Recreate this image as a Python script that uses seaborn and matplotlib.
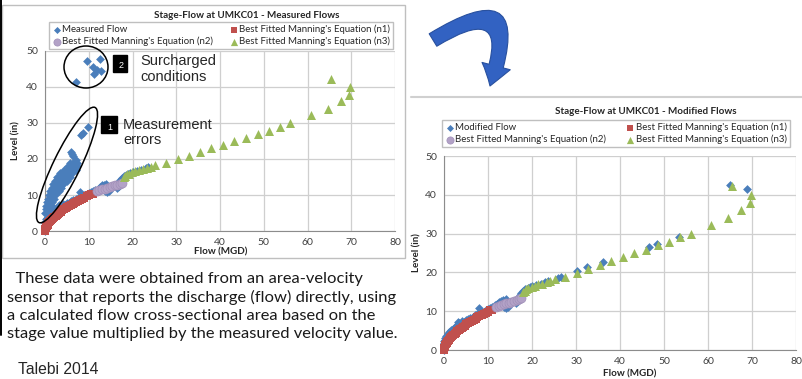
import seaborn as sns
import matplotlib.pyplot as plt
from matplotlib.patches import Ellipse, Rectangle, FancyArrowPatch

# blue points lying on the rating curve (in both charts)
base_flow = [0.0, 0.0, 0.0, 0.05, 0.1, 0.2, 0.3, 0.5, 0.8, 1.2, 1.6, 2.0, 2.5,
             3.0, 3.2, 3.5, 4.0, 4.5, 5.0, 5.5, 6.0, 6.5, 7.0, 7.5, 7.9, 8.5,
             9.0, 9.5, 10.0, 10.5, 11.0, 11.5, 12.0, 12.5, 13.0, 13.5, 14.0,
             13.6, 14.1, 14.6, 15.0, 16.4, 16.8, 17.0, 17.2, 17.6, 18.0, 18.5,
             19.0, 19.5, 20.0, 21.0, 22.0, 23.0, 23.6]
base_level = [0.0, 0.6, 1.2, 1.7, 2.2, 2.7, 3.2, 3.7, 4.2, 4.7, 5.1, 5.5, 6.0,
              6.4, 7.2, 6.9, 7.5, 7.3, 7.7, 7.9, 8.2, 8.5, 8.9, 9.2, 10.9, 9.6,
              9.9, 10.2, 10.5, 10.8, 11.1, 11.5, 11.8, 12.3, 12.7, 12.9, 13.1,
              11.0, 10.7, 11.2, 12.5, 12.0, 12.6, 13.3, 14.2, 14.8, 15.3, 15.6,
              15.9, 16.2, 16.4, 16.7, 17.0, 17.4, 17.8]

# measurement errors (steep branch, left chart only)
error_flow = [0.1, 0.6, 0.2, 0.8, 1.3, 0.3, 0.9, 1.5, 0.5, 1.1, 1.7, 0.7, 1.4,
              2.0, 0.9, 1.6, 2.3, 1.2, 1.9, 2.7, 3.3, 1.5, 2.2, 3.0, 3.6, 1.9,
              2.6, 3.3, 4.0, 2.3, 3.0, 3.7, 4.4, 5.1, 2.8, 3.5, 4.2, 4.9, 5.6,
              3.4, 4.1, 4.8, 5.5, 6.2, 4.3, 5.0, 5.7, 6.4, 7.0, 5.2, 5.9, 6.6,
              7.3, 5.8, 6.5, 7.2, 7.0, 6.4, 6.2, 6.0, 8.2, 8.7, 9.8]
error_level = [5.0, 5.0, 6.0, 6.0, 6.0, 7.0, 7.0, 7.0, 8.0, 8.0, 8.0, 9.0, 9.0,
               9.0, 10.0, 10.0, 10.0, 11.0, 11.0, 11.0, 11.0, 12.0, 12.0, 12.0,
               12.0, 13.0, 13.0, 13.0, 13.0, 14.0, 14.0, 14.0, 14.0, 14.0, 15.0,
               15.0, 15.0, 15.0, 15.0, 16.0, 16.0, 16.0, 16.0, 16.0, 17.0, 17.0,
               17.0, 17.0, 17.0, 18.0, 18.0, 18.0, 18.0, 19.0, 19.0, 19.0, 19.8,
               20.8, 21.4, 22.0, 26.7, 27.3, 29.0]

# surcharged conditions (left chart only)
surcharge_flow = [7.1, 9.6, 10.9, 11.8, 11.1, 12.9, 12.5]
surcharge_level = [41.3, 47.2, 45.6, 44.8, 43.6, 44.5, 47.8]

# corrected high-flow points (right chart only)
modified_flow = [25.8, 26.5, 30.3, 32.4, 36.1, 46.7, 48.5, 53.3, 65.0, 68.9]
modified_level = [18.5, 18.9, 20.4, 21.3, 22.8, 26.6, 27.3, 29.2, 42.5, 41.4]

n1_flow = [0.0, 0.03, 0.09, 0.18, 0.30, 0.43, 0.58, 0.75, 0.94, 1.15, 1.37,
           1.60, 1.85, 2.12, 2.40, 2.69, 2.99, 3.31, 3.64, 3.99, 4.34, 4.71,
           5.09, 5.48, 5.88, 6.30, 6.72, 7.16, 7.60, 8.06, 8.53, 9.01, 9.50,
           10.0, 10.5, 11.0]
n1_level = [0.0, 0.3, 0.6, 0.9, 1.2, 1.5, 1.8, 2.1, 2.4, 2.7, 3.0, 3.3, 3.6,
            3.9, 4.2, 4.5, 4.8, 5.1, 5.4, 5.7, 6.0, 6.3, 6.6, 6.9, 7.2, 7.5,
            7.8, 8.1, 8.4, 8.7, 9.0, 9.3, 9.6, 9.9, 10.2, 10.4]

n2_flow = [11.8, 12.4, 13.0, 13.6, 14.2, 14.8, 15.3, 15.9, 16.5, 17.1, 17.6]
n2_level = [11.0, 11.3, 11.6, 11.8, 12.0, 12.2, 12.4, 12.7, 12.9, 13.1, 13.3]

n3_flow = [18.0, 18.3, 18.7, 19.2, 19.9, 20.6, 21.4, 22.3, 23.3, 24.2, 25.2,
           27.6, 30.3, 32.8, 35.4, 37.9, 40.7, 43.2, 46.0, 48.7, 51.2, 53.6,
           56.1, 60.7, 64.6, 67.6, 69.5, 69.7, 65.4]
n3_level = [15.0, 15.3, 15.7, 15.9, 16.3, 16.6, 17.0, 17.1, 17.4, 17.8, 18.2,
            18.9, 19.9, 20.8, 22.0, 23.0, 24.0, 24.9, 25.9, 27.0, 27.9, 29.0,
            30.0, 32.2, 33.9, 36.0, 37.9, 40.0, 42.2]

BLUE = '#4A7EBB'
RED = '#C0504D'
PURPLE = '#B3A2C7'
GREEN = '#9BBB59'

sns.set_style('white')
plt.rcParams['font.family'] = ['Lato', 'DejaVu Sans']

W, H = 802, 379
fig = plt.figure(figsize=(W / 100, H / 100), dpi=100)


def px_axes(x0, x1, y_top, y_bot):
    return fig.add_axes([x0 / W, 1 - y_bot / H, (x1 - x0) / W, (y_bot - y_top) / H])


def draw_chart(ax, blue_x, blue_y, blue_label, legend_xy):
    sns.scatterplot(x=blue_x, y=blue_y, marker='D', s=20, color=BLUE, linewidth=0,
                    label=blue_label, ax=ax, clip_on=False, zorder=3)
    sns.scatterplot(x=n1_flow, y=n1_level, marker='s', s=32, color=RED, linewidth=0,
                    label="Best Fitted Manning's Equation (n1)", ax=ax, clip_on=False, zorder=4)
    sns.scatterplot(x=n2_flow, y=n2_level, marker='o', s=42, color=PURPLE,
                    edgecolor='#A08FB8', linewidth=0.5,
                    label="Best Fitted Manning's Equation (n2)", ax=ax, clip_on=False, zorder=5)
    sns.scatterplot(x=n3_flow, y=n3_level, marker='^', s=42, color=GREEN, linewidth=0,
                    label="Best Fitted Manning's Equation (n3)", ax=ax, clip_on=False, zorder=6)
    ax.set_xlim(0, 80)
    ax.set_ylim(0, 50)
    ax.set_xticks(range(0, 81, 10))
    ax.set_yticks(range(0, 51, 10))
    ax.grid(True, color='#CFCFCF', linewidth=0.9)
    ax.set_axisbelow(True)
    for side in ['top', 'right']:
        ax.spines[side].set_visible(False)
    for side in ['left', 'bottom']:
        ax.spines[side].set_color('#8C8C8C')
        ax.spines[side].set_linewidth(0.8)
    ax.tick_params(labelsize=7.5, colors='#404040', length=3, width=0.8, pad=2)
    ax.set_xlabel('')
    ax.set_ylabel('')
    h, l = ax.get_legend_handles_labels()
    order = [0, 2, 1, 3]
    ax.legend([h[i] for i in order], [l[i] for i in order], ncol=2, loc='center',
              bbox_to_anchor=(legend_xy[0] / W, 1 - legend_xy[1] / H),
              bbox_transform=fig.transFigure, fontsize=6.95, frameon=True,
              fancybox=False, edgecolor='#BFBFBF', framealpha=1, borderpad=0.3,
              labelspacing=0.3, handletextpad=0.1, handlelength=1.0,
              columnspacing=legend_xy[2], markerscale=0.8, borderaxespad=0)


ax1 = px_axes(45, 395, 51, 231)
draw_chart(ax1, base_flow + error_flow + surcharge_flow,
           base_level + error_level + surcharge_level, 'Measured Flow', (221, 35.5, 1.6))

ax2 = px_axes(444, 796, 156, 350)
draw_chart(ax2, base_flow + modified_flow, base_level + modified_level,
           'Modified Flow', (616, 133.5, 2.0))

# overlay in pixel coordinates for the slide decorations
ov = fig.add_axes([0, 0, 1, 1], facecolor='none')
ov.set_xlim(0, W)
ov.set_ylim(H, 0)
ov.axis('off')

ov.add_patch(Rectangle((2, 5), 403, 253, fill=False, edgecolor='#BFBFBF', lw=1))
ov.plot([411, 802], [97, 97], color='#D0D0D0', lw=1.5)
ov.plot([0.8, 0.8], [0, 335], color='black', lw=1.4)

ov.text(247, 16, 'Stage-Flow at UMKC01 - Measured Flows', ha='center', va='center',
        fontsize=7.1, fontweight='bold')
ov.text(646, 111, 'Stage-Flow at UMKC01 - Modified Flows', ha='center', va='center',
        fontsize=7.1, fontweight='bold')
ov.text(16, 141, 'Level (in)', rotation=90, ha='center', va='center',
        fontsize=7.1, fontweight='bold')
ov.text(417, 253, 'Level (in)', rotation=90, ha='center', va='center',
        fontsize=7.1, fontweight='bold')
ov.text(221, 252, 'Flow (MGD)', ha='center', va='center', fontsize=7.1, fontweight='bold')
ov.text(630, 374, 'Flow (MGD)', ha='center', va='center', fontsize=7.1, fontweight='bold')

# callouts
ov.add_patch(Ellipse((86, 67), 44, 42, fill=False, edgecolor='black', lw=1.1))
ov.add_patch(Ellipse((67, 165), 128, 27, angle=-64, fill=False, edgecolor='black', lw=1.1))
ov.add_patch(Rectangle((112.7, 55), 14.6, 16.7, color='black'))
ov.text(121.5, 66, '2', color='white', fontsize=6.5, ha='center', va='center',
        family='Liberation Sans')
ov.add_patch(Rectangle((101, 116), 15.7, 16.7, color='black'))
ov.text(110, 127, '1', color='white', fontsize=6.5, ha='center', va='center',
        family='Liberation Sans')
ov.text(140, 69, 'Surcharged\nconditions', fontsize=10.5, ha='left', va='center',
        linespacing=1.1, family='Liberation Sans')
ov.text(123, 132.5, 'Measurement\nerrors', fontsize=10.5, ha='left', va='center',
        linespacing=1.1, family='Liberation Sans')

# curved arrow between the charts
ov.add_patch(FancyArrowPatch((433, 40), (490, 86), connectionstyle='arc3,rad=-1.4',
                             arrowstyle='simple,tail_width=10.5,head_width=21,head_length=15',
                             mutation_scale=1, shrinkA=0, shrinkB=0,
                             facecolor='#3262C2', edgecolor='#28509E', lw=0.8))

note = ('  These data were obtained from an area-velocity\n'
        'sensor that reports the discharge (flow) directly, using\n'
        'a calculated flow cross-sectional area based on the\n'
        'stage value multiplied by the measured velocity value.')
ov.text(7, 272, note, fontsize=11.85, ha='left', va='top', linespacing=1.36,
        family='Lato', color='#1A1A1A')
ov.text(18, 370, 'Talebi 2014', fontsize=11.3, ha='left', va='center',
        family='Liberation Sans')

fig.savefig('out.png', dpi=100)
